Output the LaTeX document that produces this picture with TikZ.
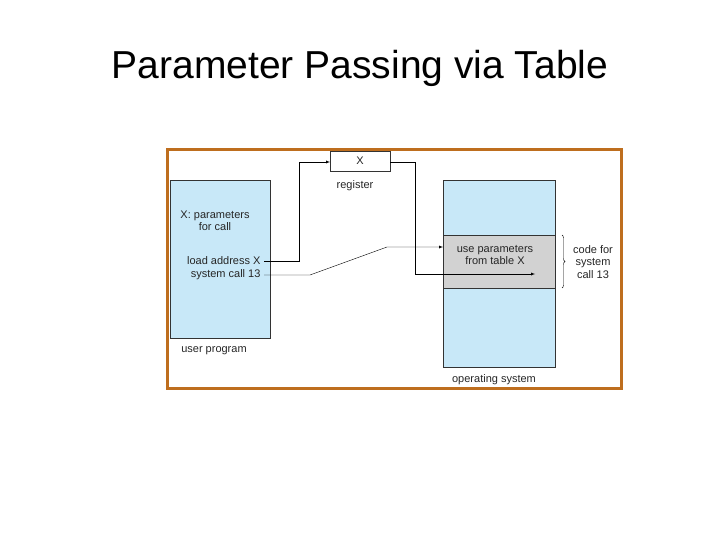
\documentclass[tikz,border=0pt]{standalone}
\usepackage{fontspec}
\setmainfont{Liberation Sans}
\usetikzlibrary{decorations.pathreplacing}
\definecolor{frameorange}{RGB}{190,110,30}
\definecolor{memblue}{RGB}{200,232,248}
\definecolor{codegray}{RGB}{210,210,210}

\begin{document}
\begin{tikzpicture}[x=1pt,y=-1pt,
    lbl/.style={font=\fontsize{11}{12.5}\selectfont, text=black!85},
    mem/.style={draw=black!80, fill=memblue},
    arr/.style={->, >=latex, thin}]
    % page and title
    \useasboundingbox (0,0) rectangle (720,540);
    \node[font=\fontsize{39}{44}\selectfont] (title) at (360,68) {Parameter Passing via Table};

    % frame
    \draw[frameorange, line width=3pt] (167,150) rectangle (621,388);

    % memory boxes
    \draw[mem] (170,180) rectangle (270,338);
    \draw[mem] (443,180) rectangle (555,367);
    \draw[draw=black!80, fill=codegray] (443,235) rectangle (555,288);
    \draw[draw=black!80, fill=white] (330,151) rectangle (390,171);
    \coordinate (regin) at (330,162);
    \coordinate (regout) at (390,162);
    \coordinate (codein) at (443,247);
    \coordinate (codeend) at (535,274);

    % texts
    \node[lbl] (xreg) at (360,161) {X};
    \node[lbl] (reg) at (355,186) {register};
    \node[lbl, align=center] (params) at (215,221) {X: parameters\\for call};
    \node[lbl, anchor=east] (load) at (264,261) {load address X};
    \node[lbl, anchor=east] (sys) at (264,275) {system call 13};
    \node[lbl] (user) at (214,351) {user program};
    \node[lbl] (os) at (494,380) {operating system};
    \node[lbl, align=center] (use) at (495,255) {use parameters\\from table X};
    \node[lbl, align=center] (code) at (593,262) {code for\\system\\call 13};

    % brace
    \draw[decorate, decoration={brace, amplitude=3pt}, thin] (562,235) -- (562,288);

    % connectors
    \draw[arr] (load.east) -- (299,261) -- (299,162) -- (regin);
    \draw[arr] (sys.east) -- (310,275) -- (387,247) -- (codein);
    \draw[arr] (regout) -- (415,162) -- (415,274) -- (codeend);
\end{tikzpicture}
\end{document}
